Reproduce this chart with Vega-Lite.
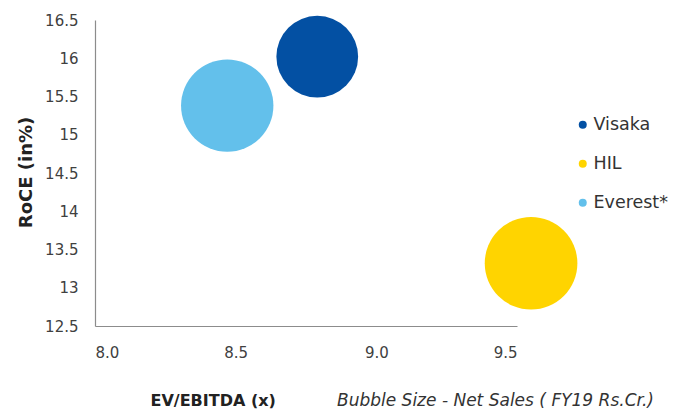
{
  "$schema": "https://vega.github.io/schema/vega-lite/v6.json",
  "width": 422,
  "height": 306,
  "autosize": "none",
  "padding": {"left": 95, "top": 20, "right": 161, "bottom": 87},
  "background": "white",
  "config": {
    "view": {"stroke": null},
    "font": "DejaVu Sans"
  },
  "title": {
    "text": "Bubble Size - Net Sales ( FY19 Rs.Cr.)",
    "orient": "bottom",
    "anchor": "start",
    "dx": 320,
    "offset": -15,
    "fontStyle": "italic",
    "fontWeight": "normal",
    "fontSize": 17,
    "color": "#333333",
    "font": "DejaVu Sans"
  },
  "data": {
    "values": [
      {"company": "Visaka", "ev_ebitda": 8.79, "roce": 16.02, "net_sales": 1300},
      {"company": "HIL", "ev_ebitda": 9.55, "roce": 13.32, "net_sales": 1670},
      {"company": "Everest*", "ev_ebitda": 8.47, "roce": 15.38, "net_sales": 1660}
    ]
  },
  "mark": {"type": "circle", "opacity": 1},
  "encoding": {
    "x": {
      "field": "ev_ebitda",
      "type": "quantitative",
      "scale": {"domain": [8.0, 9.5], "nice": false, "zero": false},
      "axis": {
        "title": "EV/EBITDA (x)",
        "values": [8.0, 8.5, 9.0, 9.5],
        "format": ".1f",
        "grid": false,
        "ticks": false,
        "domainColor": "#8c8c8c",
        "domainWidth": 1.2,
        "labelFontSize": 15,
        "labelColor": "#404040",
        "labelPadding": 19,
        "titleFontSize": 16,
        "titleFontWeight": "bold",
        "titleColor": "#222222",
        "titleAnchor": "start",
        "titleAlign": "left",
        "titleX": 55,
        "titleY": 74,
        "titleBaseline": "middle"
      }
    },
    "y": {
      "field": "roce",
      "type": "quantitative",
      "scale": {"domain": [12.5, 16.5], "nice": false, "zero": false},
      "axis": {
        "title": "RoCE (in%)",
        "values": [12.5, 13, 13.5, 14, 14.5, 15, 15.5, 16, 16.5],
        "format": ".1~f",
        "grid": false,
        "ticks": false,
        "domainColor": "#8c8c8c",
        "domainWidth": 1.2,
        "labelFontSize": 15,
        "labelColor": "#404040",
        "labelPadding": 17,
        "titleFontSize": 18,
        "titleFontWeight": "bold",
        "titleColor": "#222222",
        "titleX": -69,
        "titleY": 152,
        "titleBaseline": "middle"
      }
    },
    "color": {
      "field": "company",
      "type": "nominal",
      "scale": {
        "domain": ["Visaka", "HIL", "Everest*"],
        "range": ["#0350A3", "#FFD400", "#63C0EB"]
      },
      "legend": {
        "title": null,
        "orient": "none",
        "legendX": 479,
        "legendY": 96,
        "symbolType": "circle",
        "symbolSize": 64,
        "symbolStrokeWidth": 0,
        "labelFontSize": 17.5,
        "labelColor": "#333333",
        "labelOffset": 2,
        "rowPadding": 20
      }
    },
    "size": {
      "field": "net_sales",
      "type": "quantitative",
      "scale": {"domain": [0, 1670], "range": [0, 8580]},
      "legend": null
    }
  }
}
